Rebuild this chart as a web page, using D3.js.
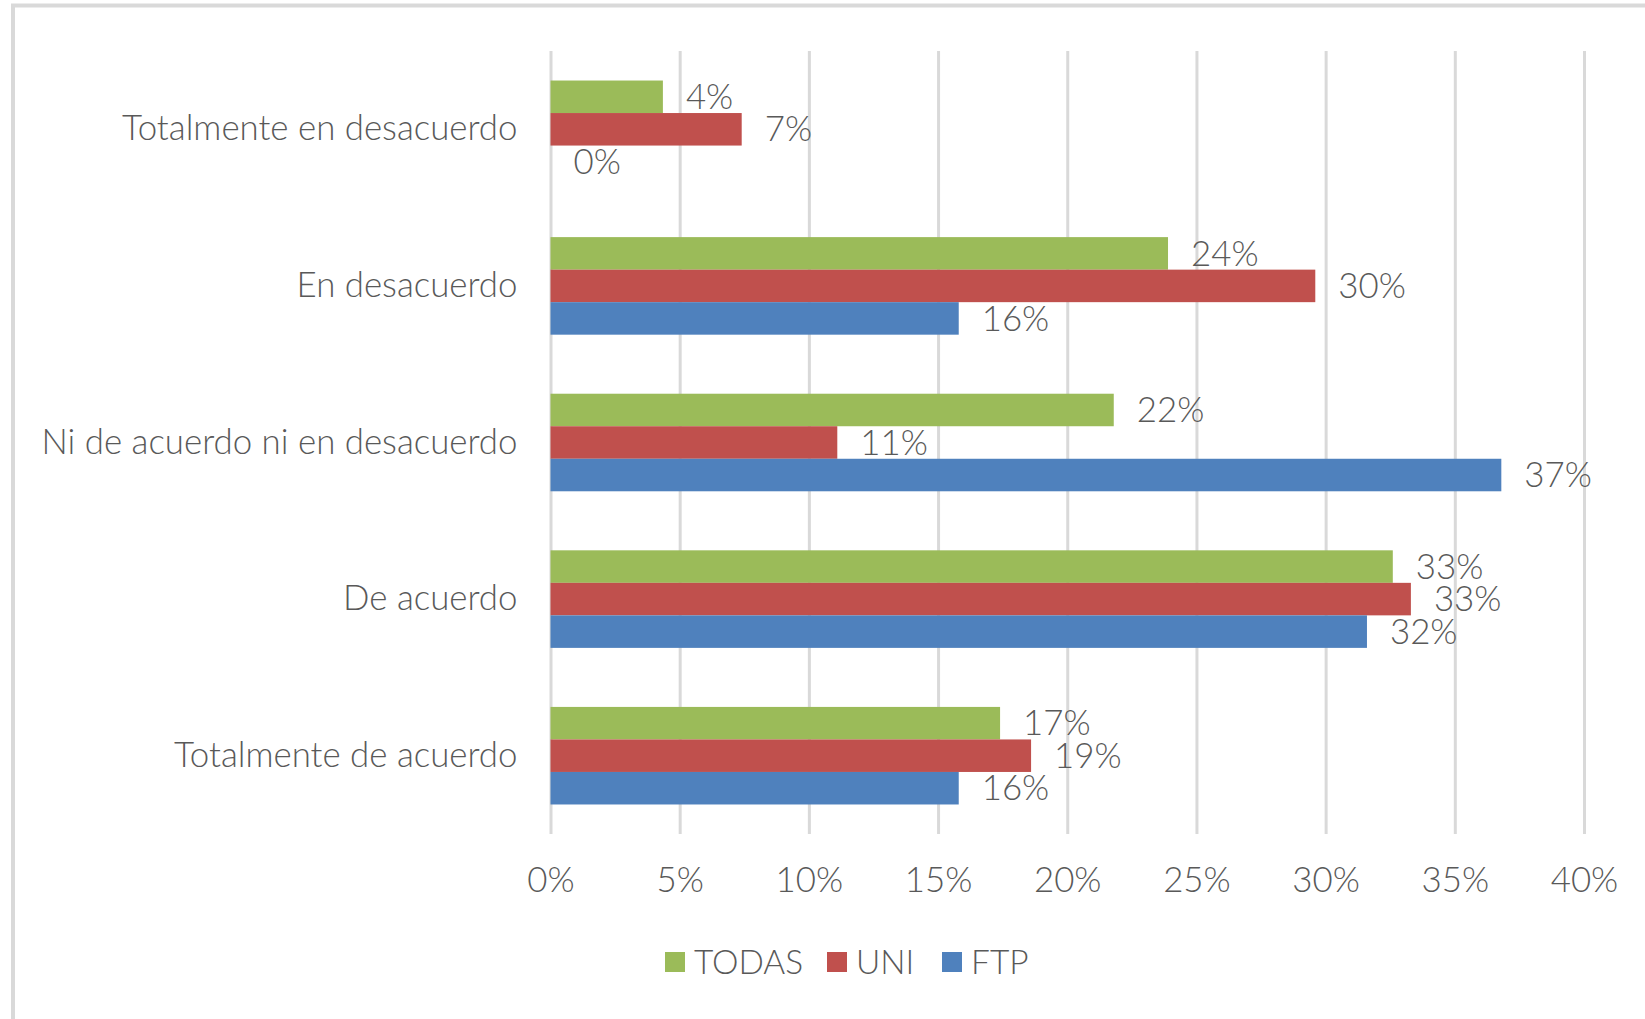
<!DOCTYPE html>
<html>
<head>
<meta charset="utf-8">
<script src="https://cdn.jsdelivr.net/npm/d3@7"></script>
<style>
  body { margin: 0; background: #fff; }
  text { font-family: Lato, "Open Sans", sans-serif; font-weight: 300; fill: #595959; }
</style>
</head>
<body>
<div id="chart"></div>
<script>
// Data
const categories = [
  'Totalmente en desacuerdo',
  'En desacuerdo',
  'Ni de acuerdo ni en desacuerdo',
  'De acuerdo',
  'Totalmente de acuerdo'
];
const seriesNames = ['TODAS', 'UNI', 'FTP'];
const todas = [0.0435, 0.239, 0.218, 0.326, 0.174];
const uni = [0.074, 0.296, 0.111, 0.333, 0.186];
const ftp = [0.0, 0.158, 0.368, 0.316, 0.158];
const xTicks = [0, 0.05, 0.10, 0.15, 0.20, 0.25, 0.30, 0.35, 0.40];

const colors = {TODAS: '#9BBB59', UNI: '#C0504D', FTP: '#4F81BD'};
const values = {TODAS: todas, UNI: uni, FTP: ftp};

const width = 1645;
const height = 1019;
const plot = {left: 550.5, right: 1584, top: 51, bottom: 834};

const svg = d3.select('#chart')
  .append('svg')
  .attr('width', width)
  .attr('height', height);

// Chart frame (runs off the right and bottom edge)
svg.append('rect')
  .attr('x', 13)
  .attr('y', 5.5)
  .attr('width', width + 20)
  .attr('height', height + 20)
  .attr('fill', 'none')
  .attr('stroke', '#D9D9D9')
  .attr('stroke-width', 4);

// Fit font size so the longest category label matches the reference width
const probe = svg.append('text').attr('font-size', 36).text(categories[2]);
const fontSize = 36 * 476 / probe.node().getComputedTextLength();
probe.remove();

const xScale = d3.scaleLinear()
  .domain([0, 0.4])
  .range([plot.left, plot.right]);

const yScale = d3.scaleBand()
  .domain(categories)
  .range([plot.top, plot.bottom])
  .paddingInner(0.377)
  .paddingOuter(0.1885);

const ySub = d3.scaleBand()
  .domain(seriesNames)
  .range([0, yScale.bandwidth()]);

// Gridlines
const grid = d3.axisBottom(xScale)
  .tickValues(xTicks)
  .tickSize(-(plot.bottom - plot.top))
  .tickFormat('');

svg.append('g')
  .attr('transform', `translate(0,${plot.bottom})`)
  .call(grid)
  .call(g => g.select('.domain').remove())
  .call(g => g.selectAll('line').attr('stroke', '#D9D9D9').attr('stroke-width', 3));

// X axis labels
const xAxis = d3.axisBottom(xScale)
  .tickValues(xTicks)
  .tickSize(0)
  .tickPadding(0)
  .tickFormat(d3.format('.0%'));

svg.append('g')
  .attr('transform', `translate(0,880)`)
  .call(xAxis)
  .call(g => g.select('.domain').remove())
  .call(g => g.selectAll('text')
    .attr('font-size', fontSize)
    .attr('dy', '0.35em')
    .attr('fill', '#595959'));

// Category labels
const yAxis = d3.axisLeft(yScale)
  .tickSize(0)
  .tickPadding(33);

svg.append('g')
  .attr('transform', `translate(${plot.left},0)`)
  .call(yAxis)
  .call(g => g.select('.domain').remove())
  .call(g => g.selectAll('text')
    .attr('font-size', fontSize)
    .attr('fill', '#595959'));

// Bars
const rows = [];
categories.forEach((c, i) => {
  seriesNames.forEach(s => {
    rows.push({category: c, series: s, value: values[s][i]});
  });
});

const groups = svg.append('g');

groups.selectAll('rect')
  .data(rows)
  .join('rect')
  .attr('x', xScale(0))
  .attr('y', d => yScale(d.category) + ySub(d.series))
  .attr('width', d => xScale(d.value) - xScale(0))
  .attr('height', ySub.bandwidth())
  .attr('fill', d => colors[d.series]);

// Data labels
groups.selectAll('text')
  .data(rows)
  .join('text')
  .attr('x', d => xScale(d.value) + 23)
  .attr('y', d => yScale(d.category) + ySub(d.series) + ySub.bandwidth() / 2)
  .attr('dy', '0.35em')
  .attr('font-size', fontSize)
  .text(d => d3.format('.0%')(d.value));

// Legend, swatches placed where the reference has them
const legendX = [665, 827, 942];
const legend = svg.append('g').attr('transform', 'translate(0,962)');
seriesNames.forEach((s, i) => {
  const item = legend.append('g').attr('transform', `translate(${legendX[i]},0)`);
  item.append('rect')
    .attr('x', 0)
    .attr('y', -10)
    .attr('width', 20)
    .attr('height', 20)
    .attr('fill', colors[s]);
  item.append('text')
    .attr('x', 29)
    .attr('dy', '0.35em')
    .attr('font-size', fontSize * 0.96)
    .text(s);
});
</script>
</body>
</html>
